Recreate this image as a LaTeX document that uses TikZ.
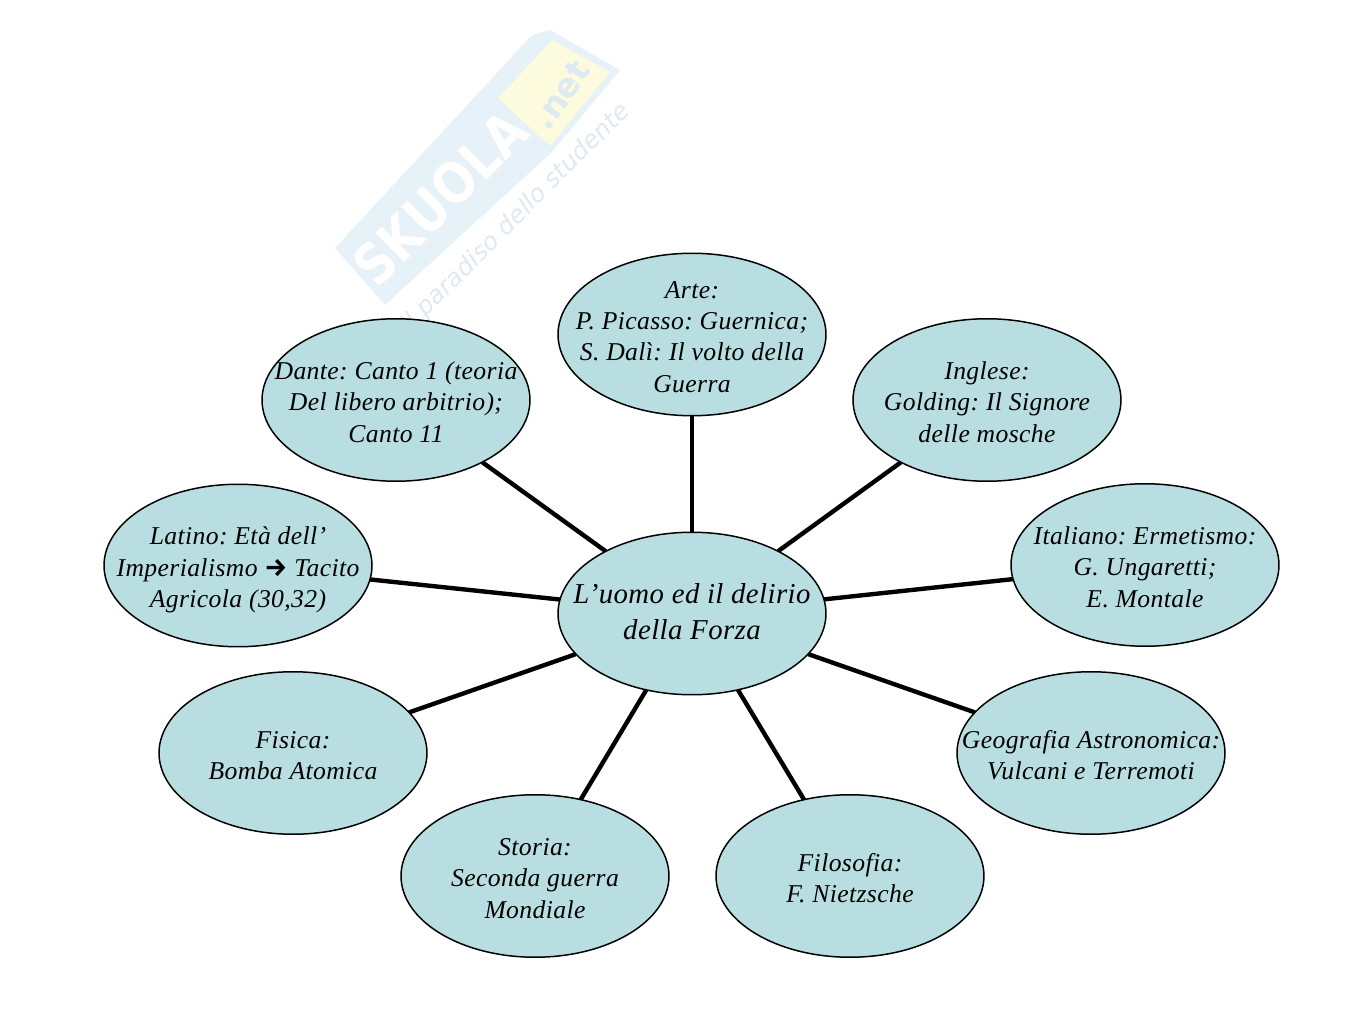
\documentclass[tikz,border=0pt]{standalone}
\usepackage{fontspec}
\setmainfont[LetterSpace=1.5]{Liberation Serif}
\newfontfamily\arrowfont{Fira Sans}
\newfontfamily\markfont{DejaVu Sans}
\usetikzlibrary{shapes.geometric}
\definecolor{ovalfill}{HTML}{B9DEE2}
\definecolor{markblue}{HTML}{E6F1F8}
\definecolor{markyellow}{HTML}{FDFBDD}
\definecolor{marktext}{HTML}{DDE9F3}
\newcommand{\ovaltext}[2][-0.42em]{\raisebox{#1}[0pt][0pt]{\makebox[0pt]{\frenchspacing\begin{tabular}{@{}c@{}}#2\end{tabular}}}}
\tikzset{
	oval/.style={ellipse, draw=black, line width=0.85pt, fill=ovalfill, inner sep=0pt, outer sep=0pt, minimum width=5.36cm, minimum height=3.25cm, font=\fontsize{14.6}{17.86}\selectfont\itshape},
	hub/.style={oval, font=\fontsize{16.4}{20.6}\selectfont\itshape},
	spoke/.style={line width=2.5pt, black}
}
\begin{document}
\begin{tikzpicture}[x=0.02cm, y=-0.02cm]
		\useasboundingbox (0,0) rectangle (1350,1013);
		% watermark
		\fill [markblue] (335,248) -- (532,35) -- (550,30) -- (620,70) -- (552,152) -- (385,305) -- cycle;
		\fill [markyellow] (498,98) -- (552,40) -- (610,72) -- (550,146) -- cycle;
		\node [rotate=45, xscale=0.85, text=white, font=\markfont\bfseries\fontsize{32}{32}\selectfont](skuola) at (440,198) {SKUOLA};
		\node [rotate=55, text=marktext, font=\markfont\bfseries\fontsize{19}{19}\selectfont](net) at (561,95) {.net};
		\node [rotate=45, text=marktext, font=\markfont\itshape\fontsize{14}{14}\selectfont](motto) at (516,218) {il paradiso dello studente};
		% topics
		\node [hub](forza) at (692,613.5) {\ovaltext[-0.29em]{L’uomo ed il delirio\hspace{0.3em}\\della Forza}};
		\node [oval](arte) at (692,334.5) {\ovaltext{Arte:\\P. Picasso: Guernica;\\S. Dalì: Il volto della\\Guerra}};
		\node [oval](inglese) at (987,400) {\ovaltext{Inglese:\\Golding: Il Signore\\delle mosche}};
		\node [oval](italiano) at (1145,565) {\ovaltext{Italiano: Ermetismo:\\G. Ungaretti;\\E. Montale}};
		\node [oval](geografia) at (1091,753) {\ovaltext{Geografia Astronomica:\\Vulcani e Terremoti}};
		\node [oval](filosofia) at (850,876) {\ovaltext{Filosofia:\\F. Nietzsche}};
		\node [oval](storia) at (535,876) {\ovaltext{Storia:\\Seconda guerra\\Mondiale}};
		\node [oval](fisica) at (293,753) {\ovaltext{Fisica:\\Bomba Atomica}};
		\node [oval](latino) at (238,565.5) {\ovaltext{Latino: Età dell’\\Imperialismo {\arrowfont\upshape\bfseries →} Tacito\\Agricola (30,32)}};
		\node [oval](dante) at (396,400) {\ovaltext{Dante: Canto 1 (teoria\\Del libero arbitrio);\\Canto 11}};
		% spokes
		\draw [spoke] (forza) -- (arte);
		\draw [spoke] (forza) -- (inglese);
		\draw [spoke] (forza) -- (italiano);
		\draw [spoke] (forza) -- (geografia);
		\draw [spoke] (forza) -- (filosofia);
		\draw [spoke] (forza) -- (storia);
		\draw [spoke] (forza) -- (fisica);
		\draw [spoke] (forza) -- (latino);
		\draw [spoke] (forza) -- (dante);
		\end{tikzpicture}
\end{document}
